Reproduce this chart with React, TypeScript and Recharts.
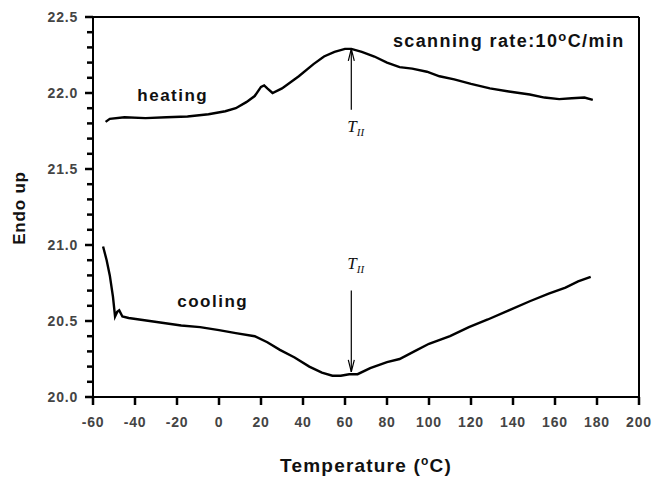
import { LineChart, Line, XAxis, YAxis, ReferenceLine, ReferenceDot, Label } from 'recharts';

// heating scan: temperature (°C) / endo up
const heatingT = [-54, -52, -45, -35, -25, -15, -5, 3, 8, 13, 17, 20, 21.5, 23, 25.5, 30, 38, 45, 50, 55, 60, 63, 68, 74, 80, 86, 92, 99, 105, 112, 120, 129, 138, 148, 155, 162, 168, 174, 178];
const heatingV = [21.81, 21.83, 21.84, 21.835, 21.84, 21.845, 21.86, 21.88, 21.9, 21.94, 21.98, 22.04, 22.05, 22.03, 22.0, 22.03, 22.11, 22.19, 22.24, 22.27, 22.29, 22.29, 22.27, 22.24, 22.2, 22.17, 22.16, 22.14, 22.11, 22.09, 22.06, 22.03, 22.01, 21.99, 21.97, 21.96, 21.965, 21.97, 21.955];

// cooling scan
const coolingT = [-55.2, -53.5, -52, -50.5, -49.5, -48.5, -47.5, -46, -43, -38, -28, -18, -9, 0, 8, 17, 23, 29, 36, 43, 49, 54, 58, 62, 66, 72, 80, 86, 93, 100, 110, 119, 128, 138, 148, 157, 165, 171, 177];
const coolingV = [20.99, 20.9, 20.8, 20.66, 20.53, 20.56, 20.57, 20.53, 20.52, 20.51, 20.49, 20.47, 20.46, 20.44, 20.42, 20.4, 20.36, 20.31, 20.26, 20.2, 20.16, 20.14, 20.14, 20.15, 20.15, 20.19, 20.23, 20.25, 20.3, 20.35, 20.4, 20.46, 20.51, 20.57, 20.63, 20.68, 20.72, 20.76, 20.79];

const xTicks = [-60, -40, -20, 0, 20, 40, 60, 80, 100, 120, 140, 160, 180, 200];
const yTicks = [20.0, 20.1, 20.2, 20.3, 20.4, 20.5, 20.6, 20.7, 20.8, 20.9, 21.0, 21.1, 21.2, 21.3, 21.4, 21.5, 21.6, 21.7, 21.8, 21.9, 22.0, 22.1, 22.2, 22.3, 22.4, 22.5];

const heating = heatingT.map((t, i) => ({ t, v: heatingV[i] }));
const cooling = coolingT.map((t, i) => ({ t, v: coolingV[i] }));

const FONT = '"Liberation Sans", Arial, sans-serif';
const TICK_COLOR = '#444';

// x from recharts = axis line - tickSize - tickMargin (both 0 here)
function YTick(props: any) {
  const { x, y, payload } = props;
  const v = payload.value;
  const major = Math.abs(v * 2 - Math.round(v * 2)) < 1e-6;
  return (
    <g>
      <path d={`M${x - (major ? 8 : 6)},${y}H${x}`} stroke="#000" strokeWidth={2.5} fill="none" />
      {major && (
        <text x={x - 15} y={y + 5} textAnchor="end" fontFamily={FONT} fontWeight="bold" fontSize={14} fill={TICK_COLOR} letterSpacing={0.8}>
          {v.toFixed(1)}
        </text>
      )}
    </g>
  );
}

function arrowShape(up: boolean, labelBelow: boolean) {
  return (p: any) => {
    const { x1, y1, x2, y2 } = p;
    const x = x1;
    const top = Math.min(y1, y2);
    const bot = Math.max(y1, y2);
    const tipY = up ? top : bot;
    const d = up ? 1 : -1;
    const ly = labelBelow ? bot + 22 : top - 22;
    return (
      <g>
        <line x1={x} x2={x} y1={top} y2={bot} stroke="#000" strokeWidth={1.2} />
        <path d={`M${x - 3},${tipY + d * 12} L${x},${tipY} L${x + 3},${tipY + d * 12}`} fill="none" stroke="#000" strokeWidth={1.2} />
        <text x={x - 4} y={ly} fontFamily='"Liberation Serif", "Times New Roman", serif' fontStyle="italic" fontSize={17} fill="#111">
          T<tspan fontSize={11} dy={4}>II</tspan>
        </text>
      </g>
    );
  };
}

function textShape(text: any, size: number, spacing: number) {
  return (p: any) => (
    <text x={p.cx} y={p.cy} textAnchor="middle" fontFamily={FONT} fontWeight="bold" fontSize={size} fill="#111" letterSpacing={spacing}>
      {text}
    </text>
  );
}

export default function App() {
  return (
    <div style={{ width: 653, height: 480, background: '#fff' }}>
      <style>{`body{margin:0}`}</style>
      <LineChart width={653} height={480} margin={{ top: 17, right: 14, bottom: 0, left: 0 }}>
        <XAxis
          dataKey="t"
          type="number"
          domain={[-60, 200]}
          ticks={xTicks}
          interval={0}
          allowDataOverflow
          height={83}
          axisLine={{ stroke: '#000', strokeWidth: 2 }}
          tickLine={{ stroke: '#000', strokeWidth: 2.5 }}
          tickSize={8}
          tickMargin={12}
          tick={{ fontFamily: FONT, fontWeight: 'bold', fontSize: 14, fill: TICK_COLOR, letterSpacing: 0.8 }}
        >
          <Label
            position="insideBottom"
            offset={8}
            content={(p: any) => (
              <text x={p.viewBox.x + p.viewBox.width / 2} y={p.viewBox.y + p.viewBox.height - 8} textAnchor="middle" fontFamily={FONT} fontWeight="bold" fontSize={19} fill="#111" letterSpacing={1.2}>
                Temperature (<tspan fontSize={12} dy={-7}>o</tspan><tspan dy={7}>C)</tspan>
              </text>
            )}
          />
        </XAxis>
        <YAxis
          dataKey="v"
          type="number"
          domain={[20, 22.5]}
          ticks={yTicks}
          interval={0}
          allowDataOverflow
          width={93}
          axisLine={{ stroke: '#000', strokeWidth: 2 }}
          tickLine={false}
          tickSize={0}
          tickMargin={0}
          tick={<YTick />}
        >
          <Label
            content={() => (
              <text x={25} y={208} transform="rotate(-90 25 208)" textAnchor="middle" fontFamily={FONT} fontWeight="bold" fontSize={17} fill="#111" letterSpacing={0.8}>
                Endo up
              </text>
            )}
          />
        </YAxis>
        <ReferenceLine y={22.5} stroke="#000" strokeWidth={2} />
        <ReferenceLine x={200} stroke="#000" strokeWidth={2} />
        <Line data={heating} dataKey="v" type="linear" stroke="#000" strokeWidth={2.4} dot={false} isAnimationActive={false} />
        <Line data={cooling} dataKey="v" type="linear" stroke="#000" strokeWidth={2.4} dot={false} isAnimationActive={false} />
        <ReferenceLine segment={[{ x: 63, y: 22.29 }, { x: 63, y: 21.89 }]} shape={arrowShape(true, true)} />
        <ReferenceLine segment={[{ x: 63, y: 20.7 }, { x: 63, y: 20.165 }]} shape={arrowShape(false, false)} />
        <ReferenceDot x={-22} y={21.95} r={0} shape={textShape('heating', 17, 1.5)} />
        <ReferenceDot x={-3} y={20.59} r={0} shape={textShape('cooling', 17, 1.5)} />
        <ReferenceDot
          x={138}
          y={22.3}
          r={0}
          shape={textShape(
            <>
              scanning rate:10<tspan fontSize={13} dy={-6}>o</tspan>
              <tspan dy={6}>C/min</tspan>
            </>,
            18,
            1.4
          )}
        />
      </LineChart>
    </div>
  );
}
